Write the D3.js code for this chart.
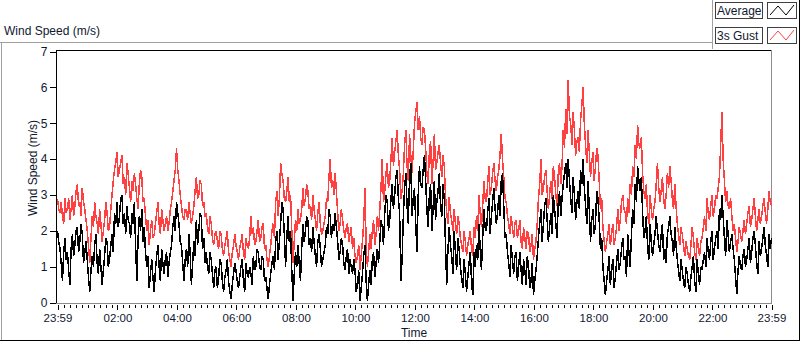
<!DOCTYPE html>
<html lang="en">
<head>
<meta charset="UTF-8">
<title>Wind Speed</title>
<style>
    body { margin: 0; background: #fff; }
    svg { display: block; font-family: "Liberation Sans", Arial, sans-serif; }
    .txt { fill: #101830; }
</style>
</head>
<body>
<div class="canvas"></div>
<script src="https://d3js.org/d3.v7.min.js"></script>
<script>
// minutes after 23:59, tick labels
const timeTickMinutes = [0, 121, 241, 361, 481, 601, 721, 841, 961, 1081, 1201, 1321, 1440];
const timeLabels = ["23:59", "02:00", "04:00", "06:00", "08:00", "10:00", "12:00", "14:00", "16:00", "18:00", "20:00", "22:00", "23:59"];
const speedTicks = [0, 1, 2, 3, 4, 5, 6, 7];

// 2.5 minute samples, 23:59 -> 23:59 (one row per hour)
const avgSpeed = [
    2.0,1.7,1.5,1.1,0.6,1.4,1.8,1.2,1.4,0.9,0.5,1.5,1.9,1.3,1.6,2.0,2.1,1.4,1.7,2.2,1.9,1.1,1.4,1.7,
    1.2,0.7,0.3,0.9,1.3,1.0,1.6,1.9,1.1,0.8,1.5,1.0,0.5,0.9,1.3,1.8,1.7,1.0,1.2,1.6,1.9,1.4,2.5,2.2,
    2.8,2.1,2.4,2.9,3.0,2.2,2.5,1.9,2.7,2.3,2.2,1.8,2.5,2.2,2.8,1.6,0.6,1.8,2.4,2.0,2.6,1.7,2.1,1.4,
    1.0,1.3,0.4,0.8,1.2,0.7,0.3,0.9,1.3,1.6,1.0,0.6,1.5,1.1,0.8,1.2,1.4,0.7,1.1,1.4,1.6,2.1,2.4,2.0,
    2.8,2.5,2.2,1.7,1.6,1.1,0.6,1.2,1.5,1.0,1.9,1.4,0.5,1.1,1.7,1.3,2.3,1.6,2.0,2.5,2.4,1.5,1.8,1.1,
    1.4,1.0,0.8,1.4,1.2,0.8,0.4,0.9,1.0,0.4,0.7,1.2,1.1,0.6,0.3,0.7,0.9,1.2,0.6,0.3,0.1,0.5,0.8,1.1,
    0.9,0.6,0.4,0.7,1.0,1.2,0.6,0.3,1.1,0.8,0.7,1.0,0.8,0.5,1.3,0.9,1.0,1.5,1.4,1.0,0.9,1.3,1.2,0.6,0.7,0.4,
    0.1,0.5,0.8,1.1,1.3,0.9,1.7,2.0,1.2,1.7,2.2,2.8,2.6,1.9,1.0,1.8,2.4,1.7,2.0,0.9,0.05,0.8,1.4,1.0,
    1.6,1.1,0.6,1.5,2.2,1.7,2.0,2.4,2.3,1.6,1.8,1.4,2.1,1.7,1.3,1.0,1.7,1.9,1.5,1.0,1.2,1.4,1.6,2.1,
    1.9,2.6,2.4,1.8,2.2,2.0,2.5,2.1,1.7,1.2,1.4,1.8,1.6,1.1,0.9,1.3,1.5,0.8,1.2,1.0,0.8,1.2,0.9,0.3,
    0.5,0.9,0.05,0.4,0.8,1.3,1.6,0.6,0.05,0.5,0.9,0.5,1.2,1.4,0.7,1.1,1.5,1.1,1.7,2.3,2.1,1.6,2.5,3.0,
    2.8,2.0,2.3,2.9,3.3,2.6,3.0,3.5,3.7,2.9,2.5,0.6,1.2,2.4,3.2,3.6,2.7,2.2,3.5,3.9,2.4,2.9,3.2,2.2,
    1.4,3.0,3.8,3.3,3.2,3.7,4.1,3.4,2.6,2.1,3.0,3.3,2.0,2.6,3.4,2.3,2.8,3.1,3.6,2.7,2.4,3.3,2.9,1.6,
    0.5,1.5,2.1,1.6,1.3,0.8,2.0,1.4,0.9,1.8,1.5,1.0,0.7,0.4,1.2,0.8,0.3,0.7,1.1,1.4,0.6,0.2,1.4,1.0,
    1.6,1.2,2.2,1.5,0.9,1.8,2.6,2.1,2.0,2.5,2.9,1.9,2.4,2.8,3.2,2.6,2.2,2.5,3.0,2.4,3.4,3.6,2.7,1.8,
    1.9,1.4,1.1,0.7,1.6,1.2,0.8,1.3,1.4,0.6,1.0,1.4,0.9,0.5,1.2,0.9,0.5,1.3,1.0,0.4,0.6,1.1,0.2,0.6,0.9,1.3,
    1.8,2.2,2.6,1.7,2.2,2.7,2.9,2.3,1.7,2.1,2.5,1.9,3.0,2.6,2.2,1.8,2.8,3.1,2.4,2.9,3.3,3.6,3.9,3.2,
    4.0,3.4,2.9,2.5,3.5,3.0,2.3,2.8,3.1,2.6,3.7,3.3,4.0,3.2,2.7,2.2,3.4,2.6,1.7,2.3,2.6,1.9,2.2,3.1,
    2.9,2.3,1.5,1.8,1.0,0.6,0.2,0.6,0.9,1.3,0.5,0.9,1.2,0.4,0.7,1.1,1.5,0.9,1.1,1.5,1.8,1.2,1.3,0.7,
    1.9,1.4,1.0,1.9,2.6,2.2,3.3,2.8,3.8,3.4,3.1,3.5,2.5,1.8,2.0,2.4,1.6,1.2,2.2,1.7,1.3,1.6,1.9,2.4,
    2.0,1.6,1.4,1.9,2.2,1.2,1.5,1.1,1.9,2.1,2.4,1.9,1.7,1.3,2.1,1.6,1.2,0.9,0.6,1.2,0.9,0.6,0.4,1.0,
    0.8,0.5,0.3,0.7,1.0,1.3,0.6,0.3,1.2,0.8,0.5,1.0,0.9,1.2,1.4,1.0,1.8,1.4,1.2,1.7,2.0,1.2,1.5,1.8,
    2.0,1.5,2.6,2.3,3.0,2.4,1.8,1.3,2.3,1.9,1.4,1.7,1.9,1.5,1.2,0.7,0.25,0.9,1.3,1.0,0.9,1.3,1.5,1.0,
    1.2,1.5,1.8,1.1,1.4,1.8,2.0,1.6,1.1,0.8,1.7,1.3,1.5,1.8,2.1,1.6,1.3,1.0,1.9,1.5,1.8
];
const gustSpeed = [
    2.9,2.6,2.5,2.8,2.4,2.2,2.9,2.5,2.6,2.9,2.3,2.6,3.0,2.4,2.7,3.1,3.3,2.7,2.8,2.4,3.2,2.8,2.6,2.3,
    2.0,1.6,1.1,1.8,2.4,2.1,2.8,2.4,2.2,1.9,2.6,2.2,1.7,2.0,2.3,2.8,2.5,2.0,2.1,2.6,3.0,3.4,3.7,3.9,
    4.2,3.5,3.7,3.9,4.1,3.3,3.5,3.0,3.9,3.6,3.2,2.8,3.4,3.1,3.6,3.3,2.9,2.6,3.3,3.7,3.5,2.8,2.9,2.4,
    2.0,2.3,1.6,2.0,2.3,1.8,1.9,2.2,2.5,2.8,2.2,1.9,2.6,2.3,2.0,2.2,2.4,2.0,2.2,2.6,2.8,3.1,3.4,3.7,
    4.3,3.7,3.4,3.0,2.7,2.4,2.3,2.6,2.6,2.3,2.8,2.5,2.2,2.4,2.7,3.1,3.5,2.9,3.0,3.4,3.3,2.7,2.8,2.4,
    2.5,2.1,1.9,2.4,2.2,1.8,1.6,1.9,2.0,1.7,1.5,2.0,1.9,1.5,1.3,1.6,1.8,2.0,1.4,1.2,1.0,1.4,1.6,1.9,
    1.6,1.4,1.2,1.5,1.7,1.9,1.4,1.2,1.8,1.6,1.5,1.8,2.4,1.9,2.1,1.6,1.7,2.0,2.3,1.7,1.8,2.1,2.2,1.5,1.6,1.2,
    1.0,1.3,1.6,2.0,2.2,1.8,2.8,3.1,2.4,2.9,3.9,3.6,3.4,2.9,2.8,3.1,3.5,2.8,3.0,2.0,1.1,1.7,2.3,2.0,
    2.6,2.2,2.3,2.6,3.2,2.7,2.9,3.3,3.1,2.6,2.7,2.3,3.0,2.6,2.3,2.0,2.5,2.8,2.2,1.9,2.0,2.2,2.4,2.9,
    2.8,3.5,4.0,3.2,3.4,3.0,3.6,3.1,2.5,2.0,2.2,2.6,2.3,2.0,1.8,2.1,2.2,1.7,1.9,2.1,1.5,1.8,1.3,1.1,
    1.3,1.6,0.9,1.3,1.7,2.2,3.2,1.6,1.0,1.4,1.9,1.5,2.0,2.3,1.6,1.9,2.4,2.0,2.6,3.2,4.0,2.8,3.1,3.6,
    3.9,3.2,3.4,4.0,4.6,3.8,4.2,4.5,4.8,4.1,3.7,2.9,3.1,3.6,4.4,4.8,3.8,3.4,4.7,4.1,3.6,4.2,5.0,5.3,
    5.6,4.8,5.2,4.6,4.4,4.9,4.8,4.3,3.6,3.3,4.2,4.5,3.3,3.9,4.7,3.7,3.9,4.2,4.4,3.9,3.5,4.1,3.8,3.0,
    2.5,2.2,2.95,2.5,2.3,2.0,2.6,2.2,1.9,2.4,2.2,1.8,1.6,1.4,2.0,1.7,1.3,1.6,1.8,2.0,1.5,1.3,2.1,1.8,
    2.4,2.0,3.0,2.5,2.1,2.7,3.4,2.9,2.8,3.3,3.8,3.0,3.2,3.6,3.9,3.4,3.1,3.5,3.7,4.1,4.7,4.0,3.5,2.9,
    2.8,2.4,2.2,1.9,2.4,2.1,1.8,2.2,2.3,1.8,2.0,2.3,1.7,1.5,2.1,1.8,1.5,2.0,1.9,1.4,1.6,1.9,1.2,1.5,1.7,2.2,
    2.9,3.3,4.0,3.0,3.2,3.5,3.7,3.1,2.6,3.0,3.4,2.9,3.8,3.5,3.0,2.7,3.6,3.9,3.3,3.8,4.8,4.3,5.4,4.7,
    6.2,5.2,5.0,4.4,5.3,4.8,4.1,4.5,4.6,4.2,5.1,5.5,6.0,5.0,4.4,3.9,4.8,4.2,3.5,3.9,4.2,3.4,3.8,4.3,
    4.1,3.4,2.6,2.9,2.1,1.7,1.4,1.7,1.9,2.2,1.6,1.9,2.2,1.6,1.8,2.1,2.6,2.0,2.3,2.8,3.0,2.6,2.5,2.2,
    2.9,2.5,3.3,3.0,3.8,3.5,4.4,4.0,4.95,4.4,4.3,4.6,3.6,3.1,2.9,3.3,2.5,2.2,3.0,2.6,2.3,2.6,2.8,3.3,
    3.9,3.2,2.8,3.1,3.5,2.9,2.6,3.0,3.6,3.2,3.8,3.4,2.9,2.6,3.3,2.7,2.2,1.9,1.6,2.1,1.9,1.6,1.3,1.7,
    1.5,1.3,1.2,1.6,2.1,1.8,1.4,1.2,1.8,1.5,1.3,1.7,1.8,2.1,2.4,2.0,2.9,2.5,2.3,2.7,3.0,2.4,2.6,3.0,
    2.9,3.2,3.5,4.4,5.3,4.0,3.4,2.8,3.1,2.7,2.6,2.9,2.4,2.0,2.2,1.8,1.4,1.7,2.1,1.9,1.7,2.0,2.3,1.9,
    2.2,2.5,2.7,2.1,2.3,2.6,2.9,2.4,2.0,2.3,2.6,2.2,2.4,2.7,2.9,2.5,2.2,2.6,3.1,2.8,2.7
];

const W = 800, H = 342;
const plot = { left: 57.5, right: 771.5, top: 51.5, bottom: 302.5 };

const svg = d3.select('.canvas').append('svg')
    .attr('width', W).attr('height', H);

const x = d3.scaleLinear().domain([0, 1440]).range([plot.left, plot.right]);
const y = d3.scaleLinear().domain([0, 7]).range([plot.bottom, plot.top]);

const step = 1440 / (avgSpeed.length - 1);

// outer frame
const frame = svg.append('g').attr('shape-rendering', 'crispEdges');
frame.append('line').attr('x1', 0).attr('x2', 712).attr('y1', 42.5).attr('y2', 42.5).attr('stroke', '#a0a0a0');
frame.append('line').attr('x1', 712.5).attr('x2', 712.5).attr('y1', 0).attr('y2', 49).attr('stroke', '#a0a0a0');
frame.append('line').attr('x1', 1.5).attr('x2', 1.5).attr('y1', 42).attr('y2', 341).attr('stroke', '#a0a0a0');
frame.append('line').attr('x1', 0).attr('x2', 800).attr('y1', 340.5).attr('y2', 340.5).attr('stroke', '#000');
frame.append('line').attr('x1', 799.5).attr('x2', 799.5).attr('y1', 0).attr('y2', 341).attr('stroke', '#000');

// title
svg.append('text').attr('class', 'txt')
    .attr('x', 4).attr('y', 35)
    .attr('font-size', 12)
    .text('Wind Speed (m/s)');

// plot area border
frame.append('line').attr('x1', 56).attr('x2', 772).attr('y1', 50.5).attr('y2', 50.5).attr('stroke', '#000');
frame.append('line').attr('x1', 56.5).attr('x2', 56.5).attr('y1', 50).attr('y2', 304).attr('stroke', '#000');
frame.append('line').attr('x1', 56).attr('x2', 772).attr('y1', 303.5).attr('y2', 303.5).attr('stroke', '#8c8c8c');
frame.append('line').attr('x1', 771.5).attr('x2', 771.5).attr('y1', 50).attr('y2', 304).attr('stroke', '#8c8c8c');

// series
const line = d3.line()
    .x((d, i) => x(i * step))
    .y(d => y(d));

svg.append('path')
    .datum(gustSpeed)
    .attr('d', line)
    .attr('fill', 'none')
    .attr('stroke', '#ff4040')
    .attr('stroke-width', 1.5)
    .attr('stroke-linejoin', 'miter')
    .attr('shape-rendering', 'crispEdges');

svg.append('path')
    .datum(avgSpeed)
    .attr('d', line)
    .attr('fill', 'none')
    .attr('stroke', '#000')
    .attr('stroke-width', 1.5)
    .attr('stroke-linejoin', 'miter')
    .attr('shape-rendering', 'crispEdges');

// y axis
const yAxis = d3.axisLeft(y)
    .tickValues(speedTicks)
    .tickSize(6)
    .tickPadding(2)
    .tickFormat(d3.format('d'));

const yG = svg.append('g')
    .attr('transform', 'translate(55.5,0)')
    .call(yAxis);
yG.select('.domain').remove();
yG.selectAll('line').attr('stroke', '#000').attr('shape-rendering', 'crispEdges');
yG.selectAll('text').attr('class', 'txt').attr('font-size', 12)
    .attr('font-family', '"Liberation Sans", Arial, sans-serif');

// x axis: minor ticks every 12 minutes, major at labels
const minorTicks = d3.range(13, 1440, 12).filter(m => !timeTickMinutes.includes(m));

const xMinor = d3.axisBottom(x).tickValues(minorTicks).tickSize(3).tickFormat('');
const xMinorG = svg.append('g').attr('transform', 'translate(0,304.5)').call(xMinor);
xMinorG.select('.domain').remove();
xMinorG.selectAll('line').attr('stroke', '#000').attr('shape-rendering', 'crispEdges');

const xAxis = d3.axisBottom(x)
    .tickValues(timeTickMinutes)
    .tickSize(5)
    .tickPadding(4)
    .tickFormat((d, i) => timeLabels[i]);
const xG = svg.append('g').attr('transform', 'translate(0,304.5)').call(xAxis);
xG.select('.domain').remove();
xG.selectAll('line').attr('stroke', '#000').attr('shape-rendering', 'crispEdges');
xG.selectAll('text').attr('class', 'txt').attr('font-size', 11.5)
    .attr('font-family', '"Liberation Sans", Arial, sans-serif');

// axis titles
svg.append('text').attr('class', 'txt')
    .attr('transform', 'translate(37,168) rotate(-90)')
    .attr('text-anchor', 'middle')
    .attr('font-size', 12)
    .text('Wind Speed (m/s)');

svg.append('text').attr('class', 'txt')
    .attr('x', 414).attr('y', 337)
    .attr('text-anchor', 'middle')
    .attr('font-size', 12)
    .text('Time');

// legend
const legendItems = [
    { name: 'Average', color: '#000' },
    { name: '3s Gust', color: '#ff4040' }
];
const legend = svg.append('g');
legendItems.forEach((item, i) => {
    const g = legend.append('g').attr('transform', `translate(0,${i * 25})`);
    g.append('rect').attr('x', 715.5).attr('y', 2.5).attr('width', 47).attr('height', 16)
        .attr('fill', '#fff').attr('stroke', '#404040').attr('shape-rendering', 'crispEdges');
    g.append('text').attr('class', 'txt').attr('x', 717).attr('y', 15)
        .attr('font-size', 12).text(item.name);
    g.append('rect').attr('x', 767.5).attr('y', 2.5).attr('width', 29).attr('height', 16)
        .attr('fill', '#fff').attr('stroke', '#404040').attr('shape-rendering', 'crispEdges');
    g.append('polyline')
        .attr('points', '770,15 778,6 786,15 794,5')
        .attr('fill', 'none').attr('stroke', item.color).attr('stroke-width', 1);
});
</script>
</body>
</html>
